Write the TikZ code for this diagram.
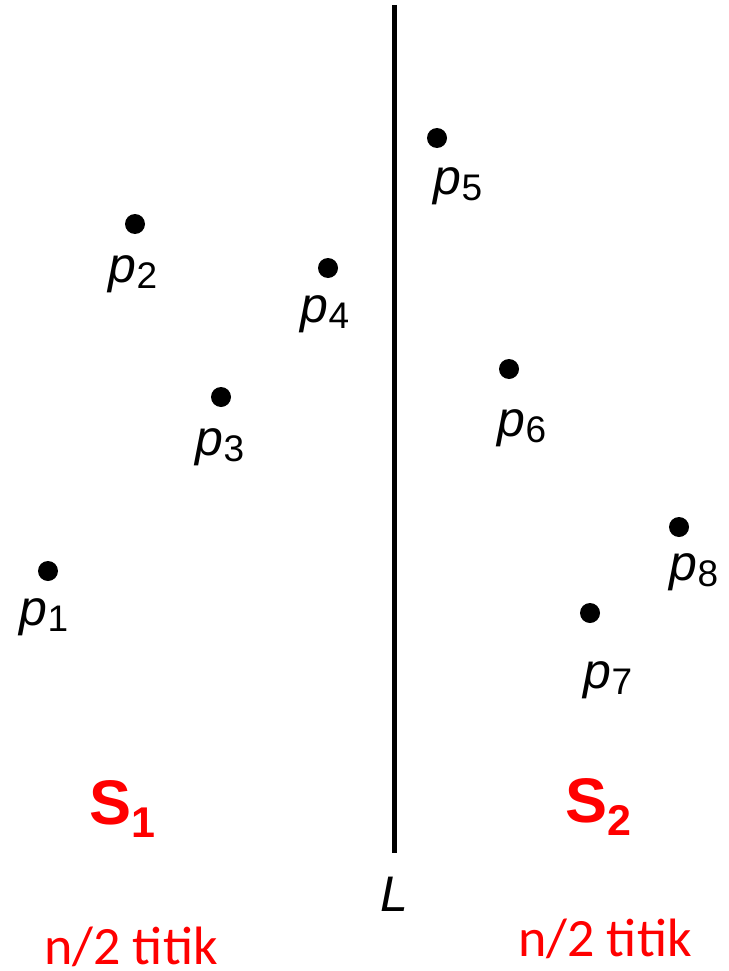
\documentclass[tikz,border=0pt]{standalone}
\usepackage{fontspec}
\setmainfont{Liberation Sans}
\newfontfamily\calibrifont{Carlito}
\usetikzlibrary{positioning}

\definecolor{sred}{RGB}{255, 0, 0}

\newcommand{\plab}[1]{\textit{p}\raisebox{-6pt}{\fontsize{37}{40}\selectfont #1}}
\newcommand{\slab}[1]{S\raisebox{-13pt}{\fontsize{43}{46}\selectfont #1}}

\begin{document}
\begin{tikzpicture}[x=1pt, y=-1pt,
		dot/.style={circle, fill=black, minimum size=20pt, inner sep=0pt},
		plabel/.style={inner sep=0pt, font=\fontsize{50}{60}\selectfont},
		setlabel/.style={inner sep=0pt, text=sred, font=\fontsize{63}{70}\selectfont\bfseries},
		countlabel/.style={inner sep=0pt, anchor=base west, text=sred, font=\fontsize{54}{60}\selectfont\calibrifont}]
			\useasboundingbox (0,0) rectangle (728,971);

			% --- Points and their labels ---
			\foreach \n/\x/\y/\dx/\dy in {1/48/571/-4/46, 2/135/224/-2/50, 3/221/397/-1/50, 4/328/268/-3/46,
					5/437/138/21/48, 6/509/369/13/59, 7/590/613/18/67, 8/679/527/15/45} {
					\node[dot] (p\n) at (\x,\y) {};
					\node[plabel] (lp\n) at ([shift={(\dx,\dy)}]p\n.center) {\plab{\n}};
				}

			% Dividing line L
			\coordinate (ltop) at (394.5,5);
			\coordinate (lbot) at (394.5,853);
			\draw[line width=4.5pt] (ltop) -- (lbot);
			\node[plabel, below=24pt of lbot] (lname) {\textit{L}};

			% The two halves
			\node[setlabel] (s1) at (122,809) {\slab{1}};
			\node[setlabel] (s2) at (598.5,806.5) {\slab{2}};
			\node[countlabel] (n1) at (44,964) {n/2 titik};
			\node[countlabel] (n2) at (518,956) {n/2 titik};

		\end{tikzpicture}
\end{document}
